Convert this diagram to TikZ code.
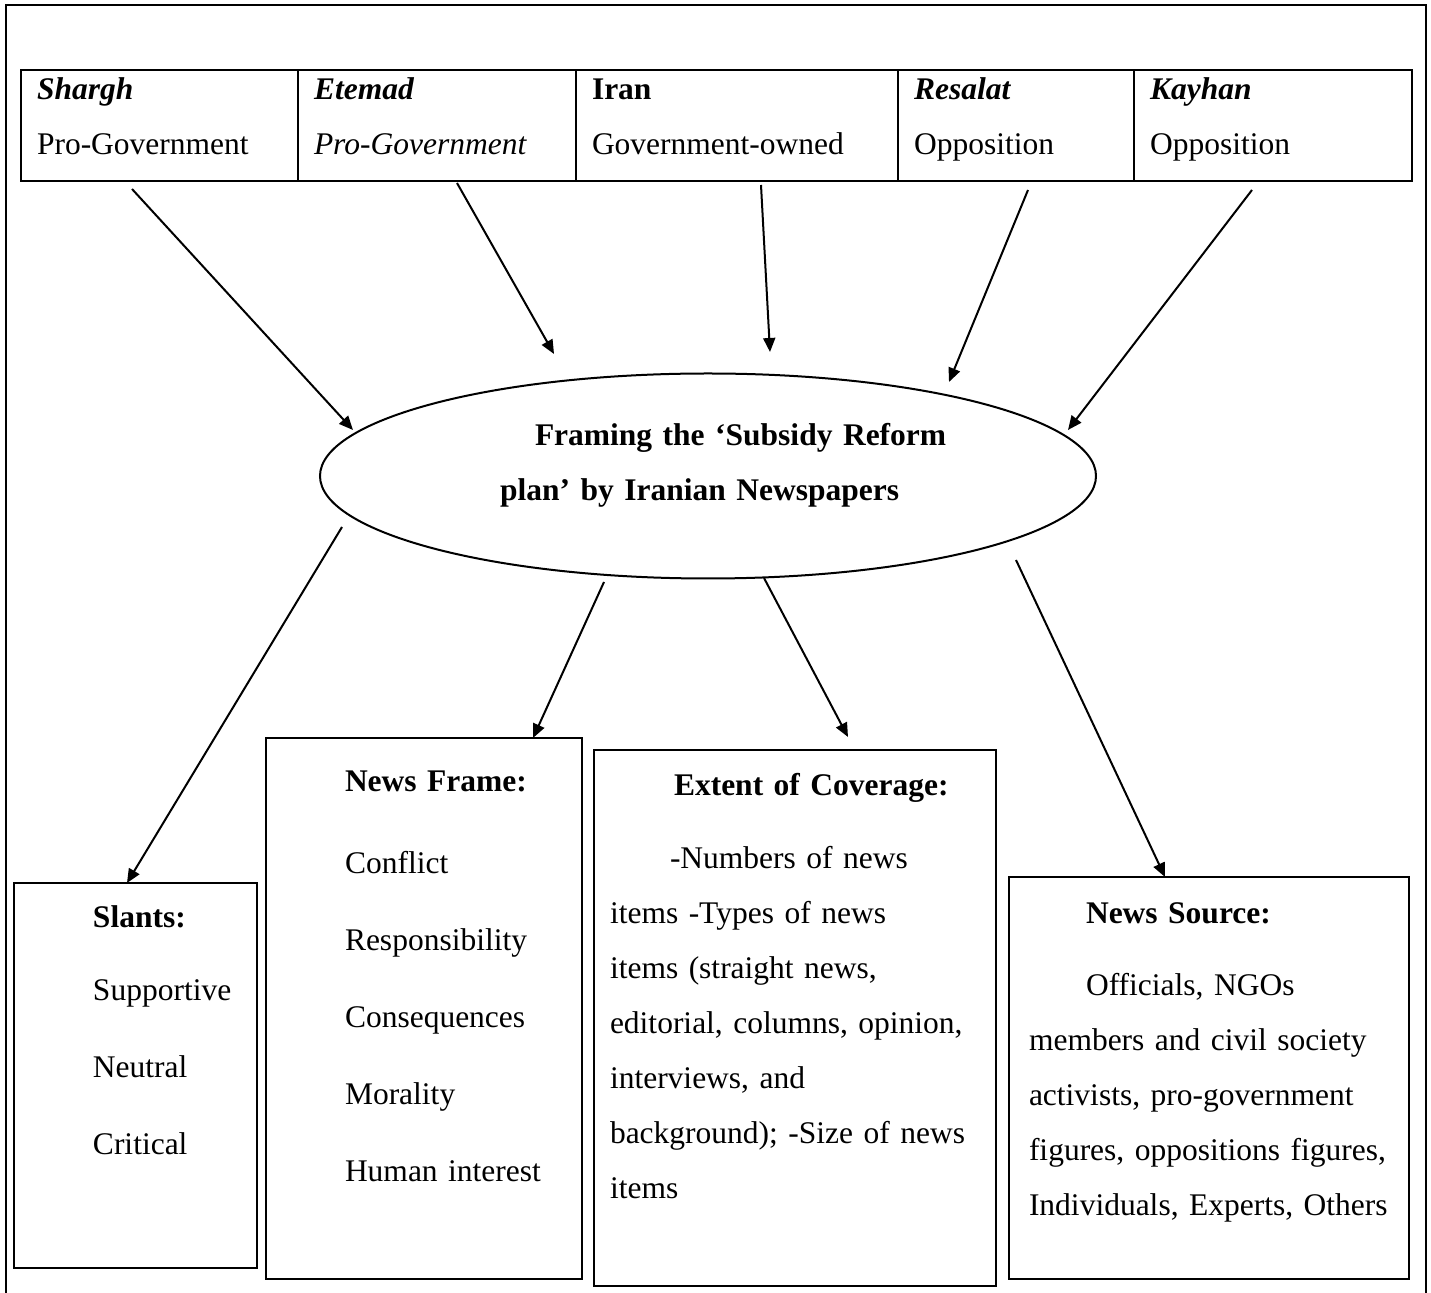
\documentclass[tikz,border=0pt]{standalone}
\usepackage{fontspec}
\setmainfont{Liberation Serif}
\usetikzlibrary{arrows.meta,shapes.geometric}
\begin{document}
\begin{tikzpicture}[x=0.5pt,y=-0.5pt]
\tikzstyle{every node}=[font=\fontsize{15.75pt}{27.5pt}\selectfont]
\tikzstyle{cell}=[draw,line width=1.3pt,anchor=north west,inner xsep=8pt,inner ysep=0pt,outer sep=0pt,align=left,text height=15pt,text depth=40.5pt]
\tikzstyle{box}=[draw,line width=1pt,anchor=north west,inner ysep=0pt,outer sep=0pt,align=left]
\tikzstyle{link}=[-{Triangle[length=7pt,width=6pt]},line width=1pt]
\useasboundingbox (0,0) rectangle (1431,1293);
\draw[line width=1.3pt] (6,1293) -- (6,5) -- (1426,5) -- (1426,1293);

\node[cell,text width=122.5pt] (shargh) at (21,70) {\textbf{\textit{Shargh}}\\Pro-Government};
\node[cell,text width=123pt] (etemad) at (298,70) {\textbf{\textit{Etemad}}\\\textit{Pro-Government}};
\node[cell,text width=145pt] (iran) at (576,70) {\textbf{Iran}\\Government-owned};
\node[cell,text width=102pt] (resalat) at (898,70) {\textbf{\textit{Resalat}}\\Opposition};
\node[cell,text width=123pt] (kayhan) at (1134,70) {\textbf{\textit{Kayhan}}\\Opposition};

\node[draw,ellipse,line width=1pt,minimum width=388pt,minimum height=102.5pt,inner sep=0pt,
	align=left,text width=260pt,text height=10pt,text depth=40pt,
	font=\fontsize{15.75pt}{27.5pt}\selectfont\bfseries] (framing) at (708,476)
	{\hspace*{43.5pt}\mbox{Framing the `Subsidy Reform}\\\hspace*{26pt}\mbox{plan' by Iranian Newspapers}};

\node[box,inner xsep=5pt,text width=111.5pt,text height=22.5pt,text depth=170pt] (slants) at (14,883)
	{\leftskip=34.5pt \textbf{Slants:}\\[9pt]Supportive\\[11pt]Neutral\\[11pt]Critical\par};
\node[box,inner xsep=5pt,text width=148pt,text height=27pt,text depth=243.5pt] (frame) at (266,738)
	{\leftskip=34.5pt \textbf{News Frame:}\\[13.5pt]Conflict\\[11pt]Responsibility\\[11pt]Consequences\\[11pt]Morality\\[11pt]Human interest\par};
\node[box,inner xsep=8pt,text width=185pt,text height=23pt,text depth=245pt] (extent) at (594,750)
	{\hspace*{32pt}\textbf{Extent of Coverage:}\\[9pt]
	\hspace*{30pt}-Numbers of news\\items -Types of news\\items (straight news,\\editorial, columns, opinion,\\interviews, and\\background); -Size of news\\items};
\node[box,inner xsep=10pt,text width=180pt,text height=23.5pt,text depth=177.5pt] (source) at (1009,877)
	{\hspace*{28.5pt}\textbf{News Source:}\\[8.5pt]
	\hspace*{28.5pt}Officials, NGOs\\members and civil society\\activists, pro-government\\figures, oppositions figures,\\Individuals, Experts, Others};

\coordinate (shargh-out) at (132,189);
\coordinate (etemad-out) at (457,183);
\coordinate (iran-out) at (761,185);
\coordinate (resalat-out) at (1028,190);
\coordinate (kayhan-out) at (1252,190);
\coordinate (shargh-in) at (353,430);
\coordinate (etemad-in) at (554,354);
\coordinate (iran-in) at (770,352);
\coordinate (resalat-in) at (949,382);
\coordinate (kayhan-in) at (1068,430);
\coordinate (slants-out) at (342,527);
\coordinate (frame-out) at (604,582);
\coordinate (extent-out) at (764,578);
\coordinate (source-out) at (1016,560);
\coordinate (slants-in) at (127,883);
\coordinate (frame-in) at (533,738);
\coordinate (extent-in) at (848,737);
\coordinate (source-in) at (1165,877);

\draw[link] (shargh-out) -- (shargh-in);
\draw[link] (etemad-out) -- (etemad-in);
\draw[link] (iran-out) -- (iran-in);
\draw[link] (resalat-out) -- (resalat-in);
\draw[link] (kayhan-out) -- (kayhan-in);
\draw[link] (slants-out) -- (slants-in);
\draw[link] (frame-out) -- (frame-in);
\draw[link] (extent-out) -- (extent-in);
\draw[link] (source-out) -- (source-in);

\end{tikzpicture}
\end{document}
